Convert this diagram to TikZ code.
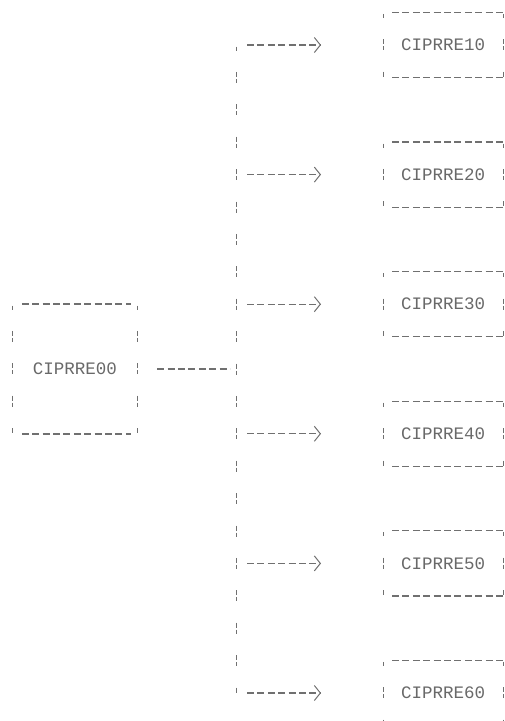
\documentclass[tikz,border=0pt]{standalone}
\usepackage{fontspec}
\setmonofont{Liberation Mono}
\usetikzlibrary{arrows.meta}
\definecolor{ink}{RGB}{112,112,112}
\definecolor{txt}{RGB}{105,105,105}
\begin{document}
\begin{tikzpicture}[x=1pt,y=1pt,
  hdash/.style={draw=ink,line width=1.3pt,dash pattern=on 7pt off 3.4pt},
  vdash/.style={draw=ink,line width=0.9pt,dash pattern=on 5pt off 2pt on 4pt off 21.4pt,dash phase=5.5pt},
  lbl/.style={inner sep=0pt,font=\ttfamily\fontsize{17.5}{18}\selectfont,text=txt},
  rootbox/.style={lbl,minimum width=124pt,minimum height=129.6pt},
  childbox/.style={lbl,minimum width=120pt,minimum height=64.8pt,anchor=west},
  edgeh/.style={hdash,shorten <=9pt,shorten >=6pt},
  branch/.style={hdash,shorten <=11pt,shorten >=62pt,
    -{Straight Barb[length=6pt,width=15pt,line width=1pt]}}
]
\useasboundingbox (0,0) rectangle (505,-721);

% root box
\node[rootbox] (root) at (75,-369) {CIPRRE00};
\draw[edgeh] (root.north west) -- (root.north east);
\draw[edgeh] (root.south west) -- (root.south east);
\draw[vdash] (root.north west) -- (root.south west);
\draw[vdash] (root.north east) -- (root.south east);

% trunk
\coordinate (t0) at (236,-45);
\coordinate (tj) at (236,-369);
\coordinate (t6) at (236,-693);
\draw[vdash] (t0) -- (t6);
\draw[hdash,shorten <=20pt,shorten >=6pt] (root.east) -- (tj);

% children
\foreach \k/\lab in {0/CIPRRE10,1/CIPRRE20,2/CIPRRE30,3/CIPRRE40,4/CIPRRE50,5/CIPRRE60}{
  \node[childbox] (c\k) at (383,{-45-129.6*\k}) {\lab};
  \draw[edgeh,shorten >=0pt] (c\k.north west) -- ([xshift=2pt]c\k.north east);
  \draw[edgeh,shorten >=0pt] (c\k.south west) -- ([xshift=2pt]c\k.south east);
  \draw[vdash] (c\k.north west) -- (c\k.south west);
  \draw[vdash] (c\k.north east) -- (c\k.south east);
  \coordinate (b\k) at (236,{-45-129.6*\k});
  \draw[branch] (b\k) -- (c\k.west);
}
\end{tikzpicture}
\end{document}
